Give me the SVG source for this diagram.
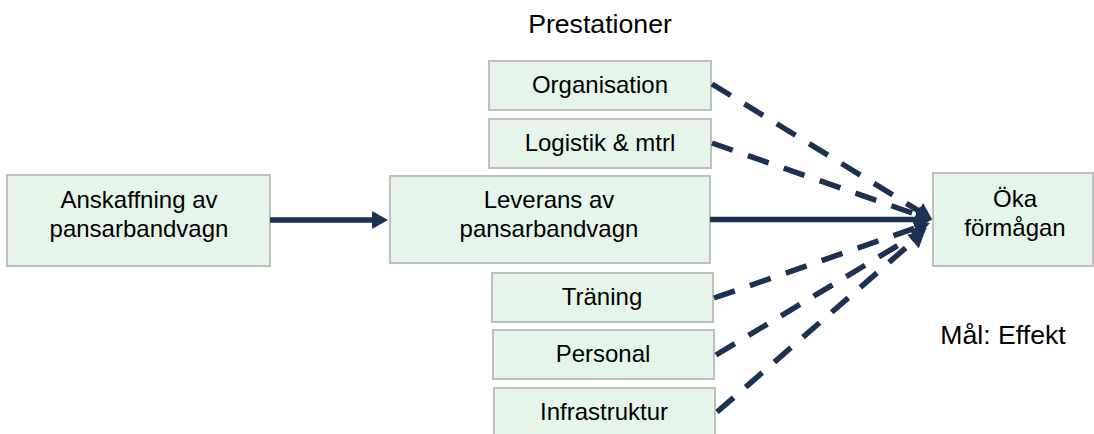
<svg xmlns="http://www.w3.org/2000/svg" width="1094" height="434" viewBox="0 0 1094 434">
  <style>
    .box { fill: #E6F5E9; stroke: #BFBFBF; stroke-width: 2; }
    .t { font-family: "Liberation Sans", Arial, sans-serif; font-size: 24px; fill: #000; text-anchor: middle; }
    .lbl { font-family: "Liberation Sans", Arial, sans-serif; font-size: 26.67px; fill: #000; text-anchor: middle; }
    .solid { stroke: #1D3153; stroke-width: 5.5; fill: none; marker-end: url(#ah); }
    .dash { stroke: #1D3153; stroke-width: 5.5; fill: none; stroke-dasharray: 22 16; marker-end: url(#ah); }
  </style>
  <defs>
    <marker id="ah" viewBox="0 0 16 18" markerWidth="16" markerHeight="18" refX="1" refY="9" orient="auto" markerUnits="userSpaceOnUse">
      <path d="M0,0 L16,9 L0,18 z" fill="#1D3153"/>
    </marker>
  </defs>
  <rect width="1094" height="434" fill="#FFFFFF"/>

  <text class="lbl" x="600" y="33">Prestationer</text>
  <text class="lbl" x="1003" y="344">Mål: Effekt</text>

  <g id="node-anskaffning">
    <rect class="box" x="7" y="175" width="263" height="91"/>
    <text class="t" x="139" y="208">Anskaffning av</text>
    <text class="t" x="139" y="237">pansarbandvagn</text>
  </g>
  <g id="node-leverans">
    <rect class="box" x="390" y="176" width="320" height="87"/>
    <text class="t" x="549" y="208">Leverans av</text>
    <text class="t" x="549" y="237">pansarbandvagn</text>
  </g>
  <g id="node-organisation">
    <rect class="box" x="489" y="61" width="222" height="49"/>
    <text class="t" x="600" y="93">Organisation</text>
  </g>
  <g id="node-logistik">
    <rect class="box" x="489" y="119" width="222" height="49"/>
    <text class="t" x="600" y="151">Logistik &amp; mtrl</text>
  </g>
  <g id="node-traning">
    <rect class="box" x="492" y="273" width="221" height="49"/>
    <text class="t" x="602" y="305">Träning</text>
  </g>
  <g id="node-personal">
    <rect class="box" x="493" y="330" width="221" height="49"/>
    <text class="t" x="603" y="362">Personal</text>
  </g>
  <g id="node-infrastruktur">
    <rect class="box" x="494" y="388" width="221" height="49"/>
    <text class="t" x="604" y="420">Infrastruktur</text>
  </g>
  <g id="node-oka">
    <rect class="box" x="933" y="173" width="160" height="93"/>
    <text class="t" x="1015" y="207">Öka</text>
    <text class="t" x="1015" y="236">förmågan</text>
  </g>

  <g id="connectors">
    <line class="solid" x1="270" y1="220" x2="373" y2="220"/>
    <line class="solid" x1="710" y1="219.5" x2="917" y2="219.5"/>
    <line class="dash" x1="712" y1="84" x2="919.2" y2="211.2"/>
    <line class="dash" x1="712" y1="143" x2="917.8" y2="215"/>
    <line class="dash" x1="714" y1="298" x2="915.8" y2="227.9"/>
    <line class="dash" x1="716" y1="355" x2="914.1" y2="235.7"/>
    <line class="dash" x1="717" y1="412" x2="913.7" y2="240.9"/>
  </g>
</svg>
